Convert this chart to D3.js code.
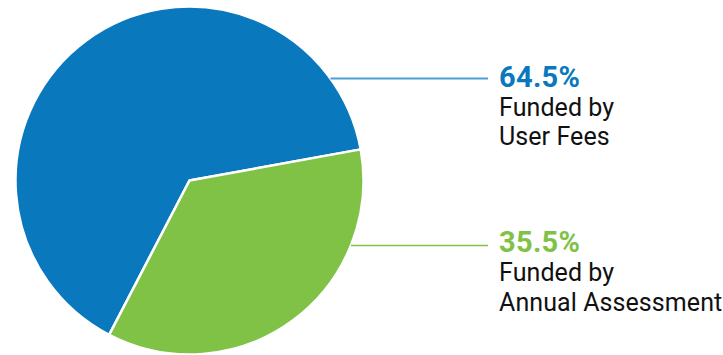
<!DOCTYPE html>
<html>
<head>
<meta charset="UTF-8">
<title>Funding pie</title>
<script src="https://cdn.jsdelivr.net/npm/d3@7"></script>
<style>
body { margin: 0; background: white; }
text { font-family: Roboto, sans-serif; }
</style>
</head>
<body>
<script type="text/javascript">
// data
var labels = ["Funded by User Fees", "Funded by Annual Assessment"]
var lines1 = ["Funded by", "Funded by"]
var lines2 = ["User Fees", "Annual Assessment"]
var values = [64.5, 35.5]
var colors = ["#0a78bd", "#7fc246"]
var lineColors = ["#4c9fd6", "#7fc246"]

var width = 723, height = 355
var cx = 189.5, cy = 180.5, r = 174

var svg = d3.select("body")
 .append("svg")
 .attr("width", width)
 .attr("height", height)

var start = 207.5 * Math.PI / 180
var pie = d3.pie().sort(null).startAngle(start).endAngle(start + 2 * Math.PI)
var arc = d3.arc().innerRadius(0).outerRadius(r)
var arcs = pie(values)

var g = svg.append("g").attr("transform", "translate(" + cx + "," + cy + ")")
g.selectAll("path")
 .data(arcs).enter()
 .append("path")
 .attr("d", arc)
 .attr("fill", function(d, i) { return colors[i] })
 .attr("stroke", "white")
 .attr("stroke-width", 2.5)
 .attr("stroke-linejoin", "round")

// leader lines start on the pie edge
var lineY = [78.5, 245.5]
var lineEnd = 488
svg.selectAll("line.leader")
 .data(values).enter()
 .append("line")
 .attr("class", "leader")
 .attr("x1", function(d, i) { var dy = lineY[i] - cy; return cx + Math.sqrt(r * r - dy * dy) })
 .attr("x2", lineEnd)
 .attr("y1", function(d, i) { return lineY[i] })
 .attr("y2", function(d, i) { return lineY[i] })
 .attr("stroke", function(d, i) { return lineColors[i] })
 .attr("stroke-width", function(d, i) { return i == 0 ? 2 : 1.5 })

var tx = 499
var pctY = [86.7, 252.3]
var lab = svg.selectAll("g.lab")
 .data(values).enter()
 .append("g")
 .attr("class", "lab")
 .attr("transform", function(d, i) { return "translate(" + tx + "," + pctY[i] + ")" })

lab.append("text")
 .attr("font-size", 29)
 .attr("font-weight", "bold")
 .attr("letter-spacing", 0.3)
 .attr("fill", function(d, i) { return colors[i] })
 .text(function(d) { return d.toFixed(1) + "%" })

lab.append("text")
 .attr("y", 29)
 .attr("font-size", 25)
 .attr("letter-spacing", 0.08)
 .attr("fill", "#111")
 .text(function(d, i) { return lines1[i] })

lab.append("text")
 .attr("y", 58.5)
 .attr("font-size", 25)
 .attr("letter-spacing", 0.08)
 .attr("fill", "#111")
 .text(function(d, i) { return lines2[i] })
</script>
</body>
</html>
